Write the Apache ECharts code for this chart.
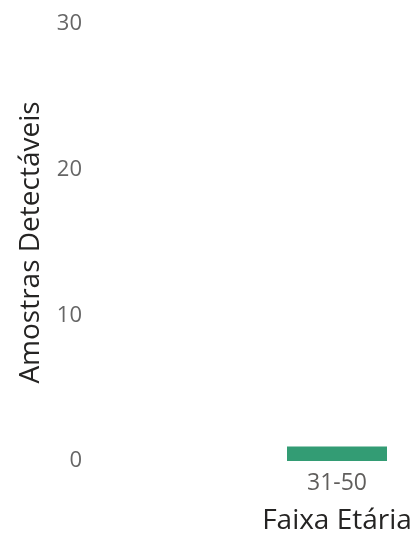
<!DOCTYPE html>
<html><head><meta charset="utf-8">
<script src="https://cdn.jsdelivr.net/npm/echarts@6/dist/echarts.min.js"></script>
<style>html,body{margin:0;padding:0;background:#fff}#c{width:415px;height:533px}</style>
</head><body><div id="c"></div>
<script>
const categories = ['31-50'];
const values = [1];
const yTicks = [0, 10, 20, 30];
const xTitle = 'Faixa Etária';
const yTitle = 'Amostras Detectáveis';

const chart = echarts.init(document.getElementById('c'), null, {renderer: 'canvas'});
const font = '"Open Sans", "Noto Sans", sans-serif';
chart.setOption({
  animation: false,
  grid: {left: 287, right: 28, top: 24, bottom: 72, containLabel: false, outerBoundsMode: 'none'},
  xAxis: {
    type: 'category', data: categories,
    axisLine: {show: false}, axisTick: {show: false},
    axisLabel: {color: '#605E5C', fontSize: 23, fontFamily: font, margin: 11},
    name: xTitle, nameLocation: 'middle', nameGap: 46,
    nameTextStyle: {color: '#252423', fontSize: 28, fontFamily: font}
  },
  yAxis: {
    type: 'value', min: yTicks[0], max: yTicks[yTicks.length - 1], interval: 10,
    splitLine: {show: false}, axisLine: {show: false}, axisTick: {show: false},
    axisLabel: {color: '#666666', fontSize: 22, fontFamily: font, margin: 205},
    name: yTitle, nameLocation: 'middle', nameGap: 242, nameRotate: 90,
    nameTextStyle: {color: '#252423', fontSize: 28, fontFamily: font}
  },
  series: [{
    type: 'bar', data: values, barWidth: 101,
    itemStyle: {color: '#339C74'}
  }]
});
</script></body></html>
